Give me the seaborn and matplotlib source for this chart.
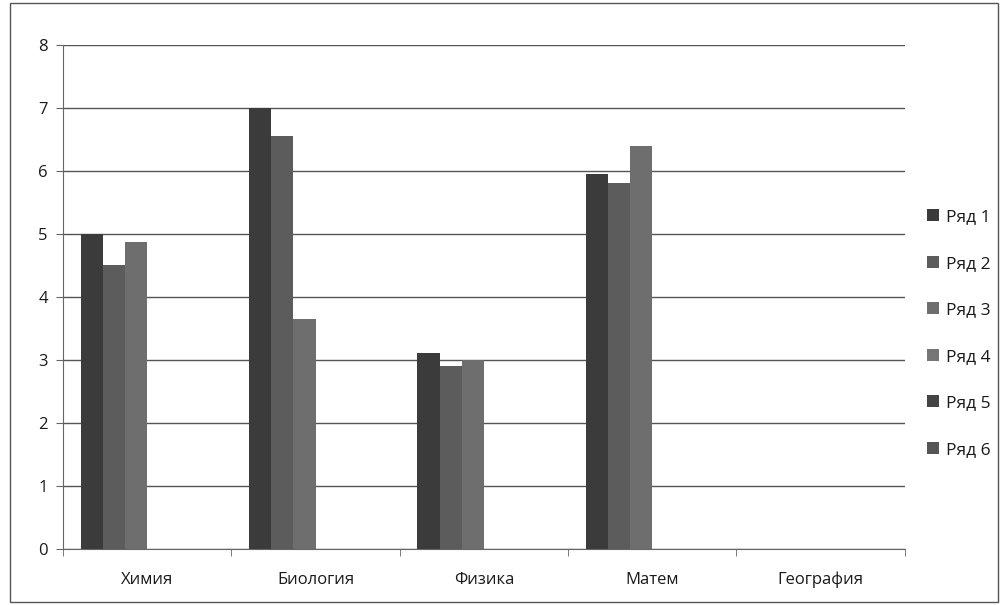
import numpy as np
import pandas as pd
import seaborn as sns
import matplotlib.pyplot as plt
from matplotlib.patches import Patch, Rectangle

categories = ["Химия", "Биология", "Физика", "Матем", "География"]
series_names = ["Ряд 1", "Ряд 2", "Ряд 3", "Ряд 4", "Ряд 5", "Ряд 6"]
ryad1 = [5.0, 7.0, 3.1, 5.95, np.nan]
ryad2 = [4.5, 6.55, 2.9, 5.8, np.nan]
ryad3 = [4.87, 3.65, 3.0, 6.4, np.nan]
ryad4 = [np.nan] * 5
ryad5 = [np.nan] * 5
ryad6 = [np.nan] * 5
colors = ["#3b3b3b", "#5c5c5c", "#6e6e6e", "#767676", "#444444", "#555555"]

all_series = [ryad1, ryad2, ryad3, ryad4, ryad5, ryad6]
rows = []
for name, vals in zip(series_names, all_series):
    for cat, v in zip(categories, vals):
        rows.append({"cat": cat, "series": name, "value": v})
df = pd.DataFrame(rows)

sns.set_style("white")
plt.rcParams["font.family"] = ["Open Sans", "DejaVu Sans"]

fig = plt.figure(figsize=(10.03, 6.05), dpi=100)
ax = fig.add_axes([0.063, 0.093, 0.839, 0.833])

sns.barplot(data=df, x="cat", y="value", hue="series", order=categories,
            hue_order=series_names, palette=colors, width=0.79,
            saturation=1, ax=ax, legend=False, edgecolor="none")

ax.set_ylim(0, 8)
ax.set_xlim(-0.5, 4.5)
ax.set_yticks(range(0, 9))
ax.yaxis.grid(True, color="#555555", linewidth=1)
ax.set_axisbelow(True)
ax.set_xlabel("")
ax.set_ylabel("")
for s in ["top", "right"]:
    ax.spines[s].set_visible(False)
ax.spines["left"].set_color("#666666")
ax.spines["bottom"].set_color("#666666")
ax.tick_params(axis="y", left=True, length=5, color="#666666", labelsize=12,
               labelcolor="#1a1a1a", pad=6)
ax.tick_params(axis="x", bottom=False, labelsize=12, labelcolor="#1a1a1a", pad=13)
ax.set_xticks(np.arange(-0.5, 5.0, 1.0), minor=True)
ax.tick_params(axis="x", which="minor", bottom=True, length=5, color="#666666")

handles = [Patch(facecolor=c, edgecolor="none", label=n) for c, n in zip(colors, series_names)]
leg = ax.legend(handles=handles, loc="center left", bbox_to_anchor=(1.008, 0.427),
                frameon=False, fontsize=12.5, handlelength=0.7, handleheight=0.7,
                handletextpad=0.4, labelspacing=1.75)
for t in leg.get_texts():
    t.set_color("#1a1a1a")

fig.add_artist(Rectangle((0.01, 0.005), 0.985, 0.99, transform=fig.transFigure,
                         fill=False, edgecolor="#555555", linewidth=1))

fig.savefig("out.png", dpi=100)
